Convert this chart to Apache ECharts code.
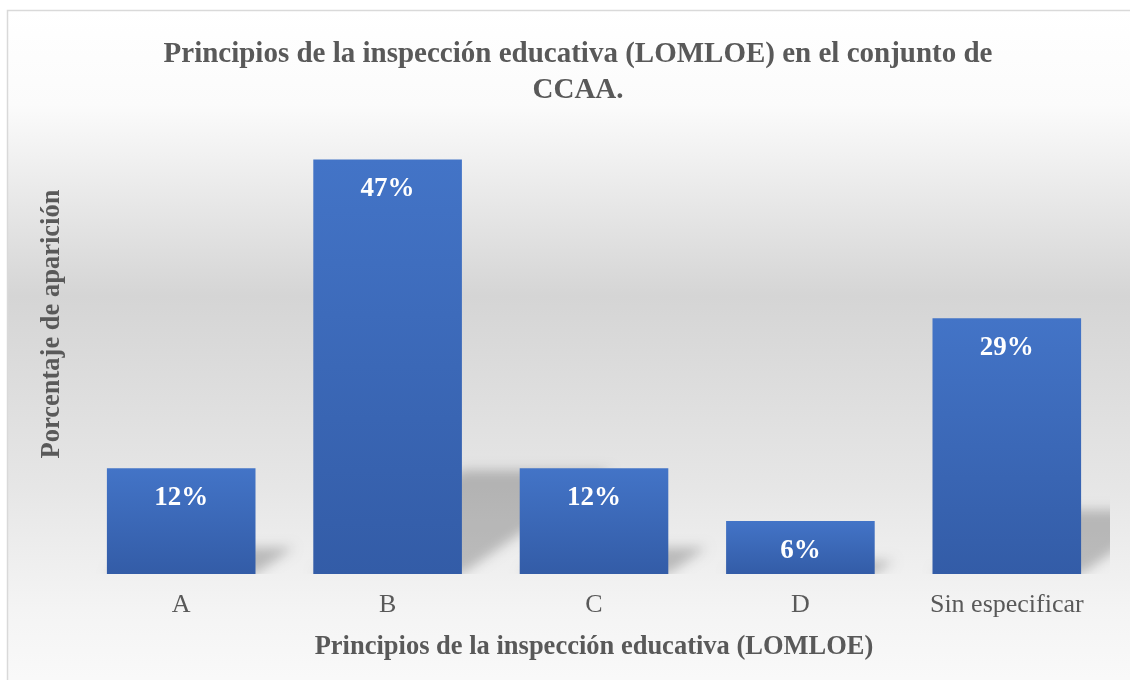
<!DOCTYPE html>
<html>
<head>
<meta charset="utf-8">
<script src="https://cdn.jsdelivr.net/npm/echarts@6/dist/echarts.min.js"></script>
<style>
  html, body { margin: 0; padding: 0; background: #fff; }
  #chart { width: 1130px; height: 680px; }
</style>
</head>
<body>
<div id="chart"></div>
<script>
const categories = ['A', 'B', 'C', 'D', 'Sin especificar']
const values = [12, 47, 12, 6, 29]
const titleText = 'Principios de la inspección educativa (LOMLOE) en el conjunto de\nCCAA.'
const xName = 'Principios de la inspección educativa (LOMLOE)'
const yName = 'Porcentaje de aparición'

const serif = '"Liberation Serif", "Times New Roman", serif'
const textGray = '#595959'
const barRatio = 0.72

let chart = echarts.init(document.getElementById('chart'))

chart.setOption({
  backgroundColor: '#fff',
  animation: false,
  title: {
    text: titleText,
    left: 573,
    top: 32,
    textAlign: 'center',
    textStyle: { fontFamily: serif, fontSize: 29, fontWeight: 'bold', color: textGray, lineHeight: 36 }
  },
  grid: { left: 78, right: 20, top: 133, bottom: 106 },
  graphic: [
    {
      type: 'rect',
      z: -10,
      silent: true,
      shape: { x: 7.5, y: 10.5, width: 1130, height: 680 },
      style: {
        stroke: '#d9d9d9',
        lineWidth: 1.5,
        fill: new echarts.graphic.LinearGradient(0, 0, 0, 1, [
          { offset: 0, color: '#ffffff' },
          { offset: 0.14, color: '#fbfbfb' },
          { offset: 0.42, color: '#d5d5d5' },
          { offset: 0.7, color: '#e6e6e6' },
          { offset: 0.88, color: '#f4f4f4' },
          { offset: 1, color: '#fafafa' }
        ])
      }
    },
    {
      type: 'text',
      x: 52,
      y: 324,
      rotation: Math.PI / 2,
      style: {
        text: yName,
        fontFamily: serif,
        fontSize: 26.5,
        fontWeight: 'bold',
        fill: textGray,
        align: 'center',
        verticalAlign: 'middle'
      }
    }
  ],
  xAxis: {
    type: 'category',
    data: categories,
    name: xName,
    nameLocation: 'middle',
    nameGap: 60,
    nameTextStyle: { fontFamily: serif, fontSize: 26.5, fontWeight: 'bold', color: textGray },
    axisLine: { show: false },
    axisTick: { show: false },
    axisLabel: { fontFamily: serif, fontSize: 26, color: textGray, margin: 18 }
  },
  yAxis: {
    type: 'value',
    min: 0,
    max: 50,
    show: false,
    splitLine: { show: false }
  },
  series: [
    {
      // perspective shadow behind each bar: shape drawn off to the left,
      // only its blurred shadow lands next to the bar
      type: 'custom',
      z: 1,
      clip: true,
      silent: true,
      data: values,
      renderItem: function (params, api) {
        let base = api.coord([api.value(0), 0])
        let top = api.coord([api.value(0), api.value(1)])
        let w = api.size([1, 0])[0] * barRatio
        let h = base[1] - top[1]
        let shift = 3000
        let xl = base[0] - w / 2 - shift
        let xr = base[0] + w / 2 - shift
        let b = base[1]
        let dx = h * 0.36
        let dy = h * 0.25
        return {
          type: 'polygon',
          shape: { points: [[xl, b], [xr, b], [xr + dx, b - dy], [xl + dx, b - dy]] },
          style: {
            fill: '#000',
            shadowBlur: 12,
            shadowOffsetX: shift,
            shadowColor: 'rgba(0,0,0,0.22)'
          }
        }
      }
    },
    {
      type: 'bar',
      z: 2,
      data: values,
      barWidth: (barRatio * 100) + '%',
      itemStyle: {
        color: new echarts.graphic.LinearGradient(0, 0, 0, 1, [
          { offset: 0, color: '#4374C7' },
          { offset: 1, color: '#335CA7' }
        ])
      },
      label: {
        show: true,
        position: 'insideTop',
        distance: 16,
        formatter: '{c}%',
        fontFamily: serif,
        fontSize: 27,
        fontWeight: 'bold',
        color: '#fff'
      }
    }
  ]
})
</script>
</body>
</html>
